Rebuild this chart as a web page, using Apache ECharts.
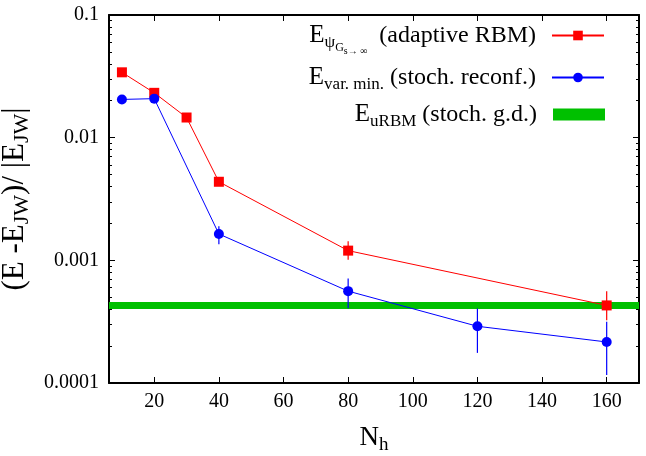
<!DOCTYPE html>
<html>
<head>
<meta charset="utf-8">
<script src="https://cdn.jsdelivr.net/npm/echarts@6/dist/echarts.min.js"></script>
<style>html,body{margin:0;padding:0;background:#fff}#c{width:646px;height:456px}</style>
</head>
<body>
<div id="c"></div>
<script>
// ---- data ----
var nhAdaptive = [10, 20, 30, 40, 80, 160];
var errAdaptive = [0.0341, 0.0232, 0.0146, 0.00437, 0.00120, 0.000429];
var errAdaptiveLo = [null, null, null, null, 0.00101, 0.000325];
var errAdaptiveHi = [null, null, null, null, 0.00143, 0.000561];

var nhStoch = [10, 20, 40, 80, 120, 160];
var errStoch = [0.0205, 0.0208, 0.00164, 0.000561, 0.000290, 0.000216];
var errStochLo = [null, null, 0.00135, 0.000406, 0.000176, 0.000116];
var errStochHi = [null, null, 0.0019, 0.000711, 0.000405, 0.000315];

var uRBMValue = 0.000429;
var xRange = [6, 170];
var xTicks = [20, 40, 60, 80, 100, 120, 140, 160];
var yTicks = [0.0001, 0.001, 0.01, 0.1];
var yTickLabels = ['0.0001', '0.001', '0.01', '0.1'];
var yMinorTicks = [];
[0.0001, 0.001, 0.01].forEach(function (d) { for (var k = 2; k <= 9; k++) yMinorTicks.push(+(d * k).toPrecision(3)); });

var FONT = 'Liberation Serif';
var RED = '#ff0000', BLUE = '#0000ff', GREEN = '#00c000';

function pairs(xs, ys) { return xs.map(function (x, i) { return [x, ys[i]]; }); }
function errData(xs, lo, hi) {
  var out = [];
  xs.forEach(function (x, i) { if (lo[i] != null) out.push([x, lo[i], hi[i]]); });
  return out;
}
function errSeries(data, color) {
  return {
    type: 'custom', xAxisIndex: 0, yAxisIndex: 0, z: 3, silent: true,
    data: data,
    renderItem: function (params, api) {
      var a = api.coord([api.value(0), api.value(1)]);
      var b = api.coord([api.value(0), api.value(2)]);
      return { type: 'line', shape: { x1: a[0], y1: a[1], x2: b[0], y2: b[1] }, style: { stroke: color, lineWidth: 1.2 } };
    }
  };
}

var rich = {
  E: { fontFamily: FONT, fontSize: 25, color: '#000' },
  s: { fontFamily: FONT, fontSize: 17, color: '#000', padding: [15, 0, 0, 0] },
  ss: { fontFamily: FONT, fontSize: 12, color: '#000', padding: [24, 0, 0, 0] },
  sss: { fontFamily: FONT, fontSize: 10, color: '#000', padding: [32, 0, 0, 0] },
  t: { fontFamily: FONT, fontSize: 24, color: '#000', padding: [0, 11, 0, 0] }
};
var legendText = {
  adaptive: '{E|E}{s|ψ}{ss|G}{sss|s→ ∞}{t|  (adaptive RBM)}',
  stoch: '{E|E}{s|var. min.}{t| (stoch. reconf.)}',
  urbm: '{E|E}{s|uRBM}{t| (stoch. g.d.)}'
};
function mkLegend(name, top) {
  return {
    data: [name], right: 41, top: top, padding: 0, align: 'right', orient: 'vertical',
    itemWidth: 52, itemHeight: 12, selectedMode: false,
    formatter: function (n) { return legendText[n]; },
    textStyle: { rich: rich }
  };
}

var axisLineStyle = { color: '#000', width: 2 };
function minorAxis(pos) {
  return {
    type: 'value', min: -4, max: -1, position: pos,
    axisLine: { show: false },
    axisTick: { show: true, inside: true, length: 3, customValues: yMinorTicks.map(function (v) { return Math.log10(v); }), lineStyle: { color: '#000', width: 1 } },
    axisLabel: { show: false }, splitLine: { show: false }
  };
}
var option = {
  animation: false,
  backgroundColor: '#fff',
  grid: { left: 109, right: 7, top: 15, bottom: 73, outerBoundsMode: 'none', containLabel: false },
  legend: [
    mkLegend('adaptive', 23),
    mkLegend('stoch', 65),
    (function () { var l = mkLegend('urbm', 102); l.data = [{ name: 'urbm', icon: 'rect' }]; return l; })()
  ],
  xAxis: [
    {
      type: 'value', min: xRange[0], max: xRange[1], position: 'bottom',
      name: '{N|N}{h|h}', nameLocation: 'middle', nameGap: 37,
      nameTextStyle: { rich: {
        N: { fontFamily: FONT, fontSize: 27, color: '#000' },
        h: { fontFamily: FONT, fontSize: 19, color: '#000', padding: [16, 0, 0, 0] }
      } },
      axisLine: { show: true, onZero: false, lineStyle: axisLineStyle },
      axisTick: { show: true, inside: true, length: 6, customValues: xTicks, lineStyle: { color: '#000', width: 1 } },
      axisLabel: { customValues: xTicks, fontFamily: FONT, fontSize: 20, color: '#000', margin: 9 },
      splitLine: { show: false }
    },
    {
      type: 'value', min: xRange[0], max: xRange[1], position: 'top',
      axisLine: { show: true, onZero: false, lineStyle: axisLineStyle },
      axisTick: { show: true, inside: true, length: 6, customValues: xTicks, lineStyle: { color: '#000', width: 1 } },
      axisLabel: { show: false },
      splitLine: { show: false }
    }
  ],
  yAxis: [
    {
      type: 'log', logBase: 10, min: 0.0001, max: 0.1, position: 'left',
      name: '{t|(E -E}{s|JW}{t|)/ |E}{s|JW}{t||}', nameLocation: 'middle', nameRotate: 90, nameGap: 56,
      nameTextStyle: { rich: {
        t: { fontFamily: FONT, fontSize: 31, color: '#000' },
        s: { fontFamily: FONT, fontSize: 22, color: '#000', padding: [15, 0, 0, 0] }
      } },
      axisLine: { show: true, onZero: false, lineStyle: axisLineStyle },
      axisTick: { show: true, inside: true, length: 6, lineStyle: { color: '#000', width: 1 } },
      axisLabel: { fontFamily: FONT, fontSize: 20, color: '#000', margin: 10,
        formatter: function (v) { var i = yTicks.findIndex(function (t) { return Math.abs(Math.log10(t) - Math.log10(v)) < 1e-6; }); return i >= 0 ? yTickLabels[i] : ''; } },
      splitLine: { show: false }
    },
    {
      type: 'log', logBase: 10, min: 0.0001, max: 0.1, position: 'right',
      axisLine: { show: true, onZero: false, lineStyle: axisLineStyle },
      axisTick: { show: true, inside: true, length: 6, lineStyle: { color: '#000', width: 1 } },
      axisLabel: { show: false }, splitLine: { show: false }
    },
    minorAxis('left'),
    minorAxis('right')
  ],
  series: [
    {
      name: 'urbm', type: 'line', xAxisIndex: 0, yAxisIndex: 0, z: 2,
      data: [[xRange[0], uRBMValue], [xRange[1], uRBMValue]],
      symbol: 'none', lineStyle: { color: GREEN, width: 7 }, itemStyle: { color: GREEN }
    },
    errSeries(errData(nhAdaptive, errAdaptiveLo, errAdaptiveHi), RED),
    errSeries(errData(nhStoch, errStochLo, errStochHi), BLUE),
    {
      name: 'adaptive', type: 'line', xAxisIndex: 0, yAxisIndex: 0, z: 4,
      data: pairs(nhAdaptive, errAdaptive),
      symbol: 'rect', symbolSize: 10, lineStyle: { color: RED, width: 1 }, itemStyle: { color: RED }
    },
    {
      name: 'stoch', type: 'line', xAxisIndex: 0, yAxisIndex: 0, z: 4,
      data: pairs(nhStoch, errStoch),
      symbol: 'circle', symbolSize: 10, lineStyle: { color: BLUE, width: 1 }, itemStyle: { color: BLUE }
    }
  ]
};
echarts.init(document.getElementById('c')).setOption(option);
</script>
</body>
</html>
